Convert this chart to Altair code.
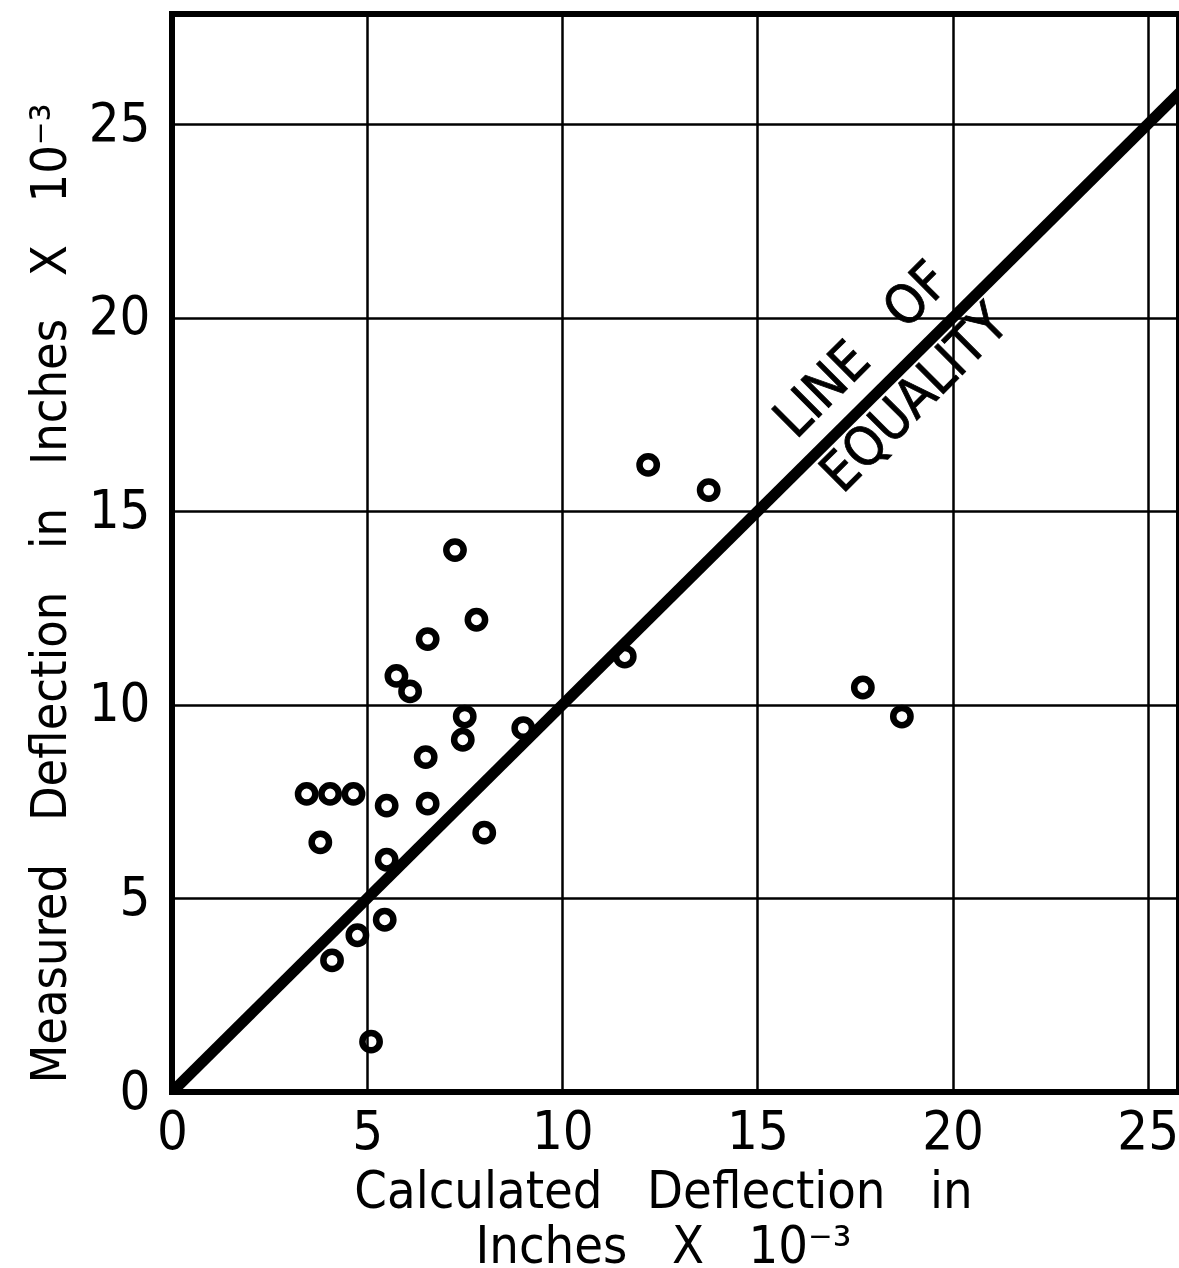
import altair as alt
import pandas as pd

# Data
calc = [7.25, 7.8, 6.55, 5.75, 6.1, 7.5, 7.45, 9.0, 6.5, 3.45, 4.05, 4.65, 5.5, 6.55,
        3.8, 8.0, 5.5, 5.45, 4.75, 4.1, 5.1, 12.2, 13.75, 11.6, 17.7, 18.7]
meas = [14.0, 12.2, 11.7, 10.75, 10.35, 9.7, 9.1, 9.4, 8.65, 7.7, 7.7, 7.7, 7.4, 7.45,
        6.45, 6.7, 6.0, 4.45, 4.05, 3.4, 1.3, 16.2, 15.55, 11.25, 10.45, 9.7]

eq_x = [0, 26]
eq_y = [0, 26]

ann_text = ["LINE\u00a0\u00a0\u00a0OF", "EQUALITY"]
ann_x = [17.7, 19.05]
ann_y = [19.15, 17.9]

ticks = [0, 5, 10, 15, 20, 25]

FONT = "DejaVu Sans Condensed, DejaVu Sans"
SP = "\u00a0\u00a0\u00a0"
SPY = "\u00a0\u00a0\u00a0"

pts = pd.DataFrame({"calc": calc, "meas": meas})
eq = pd.DataFrame({"x": eq_x, "y": eq_y})
ann = pd.DataFrame({"t": ann_text, "x": ann_x, "y": ann_y})

xs = alt.Scale(domain=[0, 25.8], nice=False, zero=True)
ys = alt.Scale(domain=[0, 27.85], nice=False, zero=True)

xaxis = alt.Axis(
    values=ticks, grid=True, ticks=False, domain=False,
    labelFontSize=54, labelFont=FONT, labelColor="black", labelPadding=13,
    labelOverlap=False, labelFlush=False, labelBound=False,
    title=["Calculated" + SP + "Deflection" + SP + "in", "Inches" + SP + "X" + SP + "10\u207b\u00b3"],
    titleFont=FONT, titleFontSize=52, titleFontWeight="normal", titleColor="black",
    titleLineHeight=55, titleX=491, titleY=74, titleAlign="center", titleBaseline="top",
)
yaxis = alt.Axis(
    values=ticks, grid=True, ticks=False, domain=False,
    labelFontSize=54, labelFont=FONT, labelColor="black", labelPadding=22,
    labelOverlap=False, labelFlush=False, labelBound=False,
    title="Measured" + SPY + "Deflection" + SPY + "in" + SPY + "Inches" + SPY + "X" + SPY + "10\u207b\u00b3",
    titleFont=FONT, titleFontSize=50, titleFontWeight="normal", titleColor="black",
    titleX=-122, titleY=579, titleAlign="center", titleBaseline="middle", titleAngle=-90,
)

line = alt.Chart(eq).mark_line(color="black", strokeWidth=11, clip=True).encode(
    x=alt.X("x:Q", scale=xs, axis=xaxis),
    y=alt.Y("y:Q", scale=ys, axis=yaxis),
)

points = alt.Chart(pts).mark_point(
    shape="circle", filled=False, color="black", strokeWidth=6.5, size=300, opacity=1
).encode(
    x=alt.X("calc:Q", scale=xs),
    y=alt.Y("meas:Q", scale=ys),
)

labels = alt.Chart(ann).mark_text(
    font=FONT, fontSize=54, angle=315, align="center", baseline="middle", color="black",
    stroke="black", strokeWidth=0.8
).encode(
    x=alt.X("x:Q", scale=xs),
    y=alt.Y("y:Q", scale=ys),
    text="t:N",
)

chart = (line + points + labels).properties(
    width=1007, height=1078,
    autosize=alt.AutoSizeParams(type="none"),
    padding={"left": 172, "top": 14, "right": 0, "bottom": 176},
    background="white",
).configure_view(
    stroke="black", strokeWidth=6
).configure_axis(
    gridColor="black", gridWidth=2.5, gridOpacity=1
)

chart.save("out.html", embed_options={"renderer": "svg", "actions": False})
